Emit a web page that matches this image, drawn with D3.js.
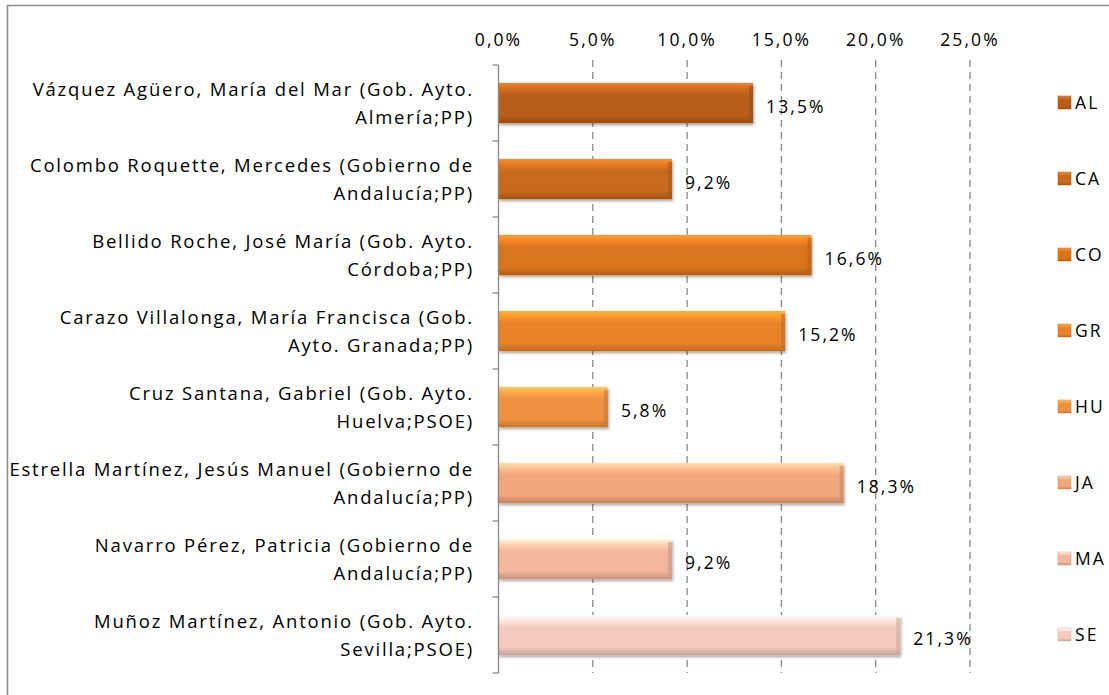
<!DOCTYPE html>
<html>
<head>
<meta charset="utf-8">
<script src="https://cdn.jsdelivr.net/npm/d3@7"></script>
<style>
  body { margin: 0; background: #fff; }
  text { font-family: "Open Sans", sans-serif; fill: #000; font-size: 17.5px; letter-spacing: 2.1px; }
  text.cat { font-size: 18.5px; letter-spacing: 1.8px; }
</style>
</head>
<body>
<div id="chart"></div>
<script>
// data
var codes = ["AL", "CA", "CO", "GR", "HU", "JA", "MA", "SE"];
var names = [
  ["Vázquez Agüero, María del Mar (Gob. Ayto.", "Almería;PP)"],
  ["Colombo Roquette, Mercedes (Gobierno de", "Andalucía;PP)"],
  ["Bellido Roche, José María (Gob. Ayto.", "Córdoba;PP)"],
  ["Carazo Villalonga, María Francisca (Gob.", "Ayto. Granada;PP)"],
  ["Cruz Santana, Gabriel (Gob. Ayto.", "Huelva;PSOE)"],
  ["Estrella Martínez, Jesús Manuel (Gobierno de", "Andalucía;PP)"],
  ["Navarro Pérez, Patricia (Gobierno de", "Andalucía;PP)"],
  ["Muñoz Martínez, Antonio (Gob. Ayto.", "Sevilla;PSOE)"]
];
var values = [13.5, 9.2, 16.6, 15.2, 5.8, 18.3, 9.2, 21.3];
var ticks = [0, 5, 10, 15, 20, 25];
var colors = ["#B85E1C", "#C8691F", "#D8741F", "#E8832A", "#EE9242", "#F2A67B", "#F2B79E", "#F5CBBD"];

var W = 1109, H = 695;
var svg = d3.select("#chart").append("svg").attr("width", W).attr("height", H);

// outer frame
svg.append("rect").attr("x", 7.5).attr("y", 5.5).attr("width", W).attr("height", H)
  .attr("fill", "none").attr("stroke", "#8c8c8c").attr("stroke-width", 1.5);

var x = d3.scaleLinear().domain([0, 25]).range([498.5, 970]);
var y = d3.scaleBand().domain(codes).range([65, 673]).paddingInner(0.47).paddingOuter(0.235);
var band = d3.scaleBand().domain(codes).range([65, 673]);

var defs = svg.append("defs");
var f = defs.append("filter").attr("id", "sh").attr("x", "-5%").attr("y", "-20%").attr("width", "110%").attr("height", "160%");
f.append("feGaussianBlur").attr("in", "SourceAlpha").attr("stdDeviation", 1.5);
f.append("feOffset").attr("dx", 1).attr("dy", 2).attr("result", "b");
f.append("feComponentTransfer").append("feFuncA").attr("type", "linear").attr("slope", 0.35);
var m = f.append("feMerge");
m.append("feMergeNode");
m.append("feMergeNode").attr("in", "SourceGraphic");

colors.forEach(function(c, i) {
  var g = defs.append("linearGradient").attr("id", "g" + i).attr("x1", 0).attr("y1", 0).attr("x2", 0).attr("y2", 1);
  var base = d3.rgb(c);
  g.append("stop").attr("offset", "0%").attr("stop-color", base.brighter(0.9));
  g.append("stop").attr("offset", "14%").attr("stop-color", base.brighter(0.4));
  g.append("stop").attr("offset", "30%").attr("stop-color", base);
  g.append("stop").attr("offset", "80%").attr("stop-color", base);
  g.append("stop").attr("offset", "100%").attr("stop-color", base.darker(0.6));
});

// gridlines
svg.append("g").selectAll("line").data(ticks.slice(1)).enter().append("line")
  .attr("x1", function(d) { return x(d); }).attr("x2", function(d) { return x(d); })
  .attr("y1", 60).attr("y2", 673)
  .attr("stroke", "#888").attr("stroke-width", 1.3).attr("stroke-dasharray", "7,5");

// top tick labels
svg.append("g").selectAll("text").data(ticks).enter().append("text")
  .attr("x", function(d) { return x(d); }).attr("y", 46)
  .attr("text-anchor", "middle")
  .text(function(d) { return d3.format(".1f")(d).replace(".", ",") + "%"; });

// bars
var bars = svg.append("g").selectAll("g").data(codes).enter().append("g");
bars.append("rect")
  .attr("x", x(0)).attr("y", function(d) { return y(d); })
  .attr("width", function(d, i) { return x(values[i]) - x(0); })
  .attr("height", y.bandwidth())
  .attr("fill", function(d, i) { return "url(#g" + i + ")"; })
  .attr("filter", "url(#sh)");
// darker right edge
bars.append("rect")
  .attr("x", function(d, i) { return x(values[i]) - 4; }).attr("y", function(d) { return y(d) + 3; })
  .attr("width", 4).attr("height", y.bandwidth() - 6)
  .attr("fill", function(d, i) { return d3.rgb(colors[i]).darker(0.5); }).attr("opacity", 0.6);

// value labels
svg.append("g").selectAll("text").data(codes).enter().append("text")
  .attr("x", function(d, i) { return x(values[i]) + 13; })
  .attr("y", function(d) { return y(d) + y.bandwidth() / 2 + 10; })
  .text(function(d, i) { return d3.format(".1f")(values[i]).replace(".", ",") + "%"; });

// left axis
svg.append("line").attr("x1", x(0)).attr("x2", x(0)).attr("y1", 65).attr("y2", 673)
  .attr("stroke", "#888").attr("stroke-width", 1.3);
svg.append("g").selectAll("line").data(d3.range(codes.length + 1)).enter().append("line")
  .attr("x1", x(0) - 6).attr("x2", x(0))
  .attr("y1", function(d) { return 65 + d * band.step(); })
  .attr("y2", function(d) { return 65 + d * band.step(); })
  .attr("stroke", "#888").attr("stroke-width", 1.3);

// category labels
var lab = svg.append("g").selectAll("text").data(codes).enter().append("text")
  .attr("class", "cat").attr("text-anchor", "end");
lab.append("tspan").attr("x", 474).attr("y", function(d) { return band(d) + band.bandwidth() / 2 - 7; })
  .text(function(d, i) { return names[i][0]; });
lab.append("tspan").attr("x", 474).attr("y", function(d) { return band(d) + band.bandwidth() / 2 + 21; })
  .text(function(d, i) { return names[i][1]; });

// legend
var leg = svg.append("g").selectAll("g").data(codes).enter().append("g")
  .attr("transform", function(d) { return "translate(1058," + (band(d) + band.bandwidth() / 2 - 7) + ")"; });
leg.append("rect").attr("width", 13).attr("height", 13)
  .attr("fill", function(d, i) { return "url(#g" + i + ")"; })
  .attr("stroke", function(d, i) { return d3.rgb(colors[i]).darker(0.4); }).attr("stroke-width", 0.5);
leg.append("text").attr("x", 17).attr("y", 13).text(function(d) { return d; });
</script>
</body>
</html>
